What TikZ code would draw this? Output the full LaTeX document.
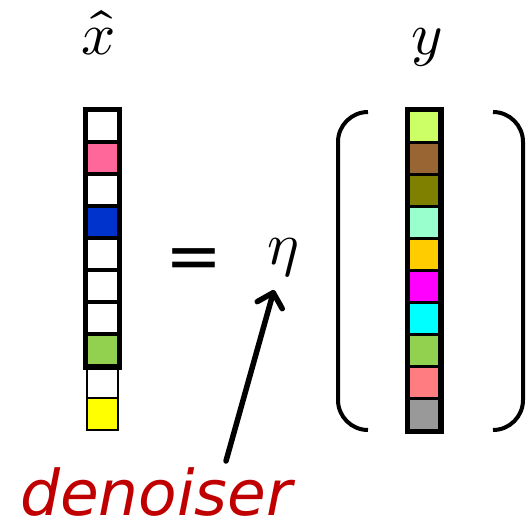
\documentclass[tikz,border=0pt]{standalone}
\usepackage{fontspec}
\usepackage{unicode-math}
\setmathfont{Latin Modern Math}
\newfontfamily\labelfont{DejaVu Sans}
\usetikzlibrary{arrows.meta}
\definecolor{xpink}{HTML}{FF6699}
\definecolor{xblue}{HTML}{0033CC}
\definecolor{xgreen}{HTML}{92D050}
\definecolor{xyellow}{HTML}{FFFF00}
\definecolor{ylime}{HTML}{CCFF66}
\definecolor{ybrown}{HTML}{996633}
\definecolor{yolive}{HTML}{808000}
\definecolor{ymint}{HTML}{99FFCC}
\definecolor{ygold}{HTML}{FFCC00}
\definecolor{ymag}{HTML}{FF00FF}
\definecolor{ycyan}{HTML}{00FFFF}
\definecolor{ysalmon}{HTML}{FF7C80}
\definecolor{ygray}{HTML}{999999}
\definecolor{xred}{HTML}{C00000}
\begin{document}
\begin{tikzpicture}[x=1pt,y=-1pt,
  cell/.style={draw=black, line width=3pt, inner sep=0pt, minimum width=31.5pt, minimum height=31.5pt},
  thin cell/.style={cell, line width=2.2pt},
  outer/.style={line width=4.5pt},
  bracket/.style={line width=4pt, rounded corners=30pt},
  mathlabel/.style={inner sep=0pt, font=\fontsize{60}{64}\selectfont},
  pointer/.style={line width=5.5pt, line cap=round, -{Straight Barb[length=13pt,width=26pt,round]}}]
\useasboundingbox (0,0) rectangle (530,523);
% left column x-hat
\foreach \c [count=\i from 0] in {white,xpink,white,xblue,white,white,white,xgreen} {
  \node[cell, fill=\c] (L\i) at (102.5,126+32*\i) {};
}
\node[thin cell, fill=white] (L8) at (102.5,382) {};
\node[thin cell, fill=xyellow] (L9) at (102.5,414) {};
\draw[outer] (L0.north west) rectangle (L7.south east);
% right column y
\foreach \c [count=\i from 0] in {ylime,ybrown,yolive,ymint,ygold,ymag,ycyan,xgreen,ysalmon,ygray} {
  \node[cell, fill=\c] (R\i) at (424,126.5+32*\i) {};
}
\draw[outer] (R0.north west) rectangle (R9.south east);
% brackets
\draw[bracket] (368,112) -- (338,112) -- (338,430) -- (368,430);
\draw[bracket] (493,112) -- (523,112) -- (523,430) -- (493,430);
% labels
\node[mathlabel, anchor=base] (xhat) at (99,54) {$\widehat{x}$};
\node[mathlabel, anchor=base] (ylab) at (427,54) {$y$};
\node[inner sep=0pt, anchor=base, font=\labelfont\fontsize{68}{70}\selectfont] (eq) at (194,279) {=};
\node[mathlabel, anchor=base] (eta) at (283,264) {$\eta$};
\node[anchor=base west, inner sep=0pt, text=xred,
      font=\labelfont\itshape\fontsize{63}{70}\selectfont] (den) at (20,515) {denoiser};
\coordinate (tail) at (226,461);
\coordinate (tip) at (274,290);
\draw[pointer] (tail) -- (tip);
\end{tikzpicture}
\end{document}
